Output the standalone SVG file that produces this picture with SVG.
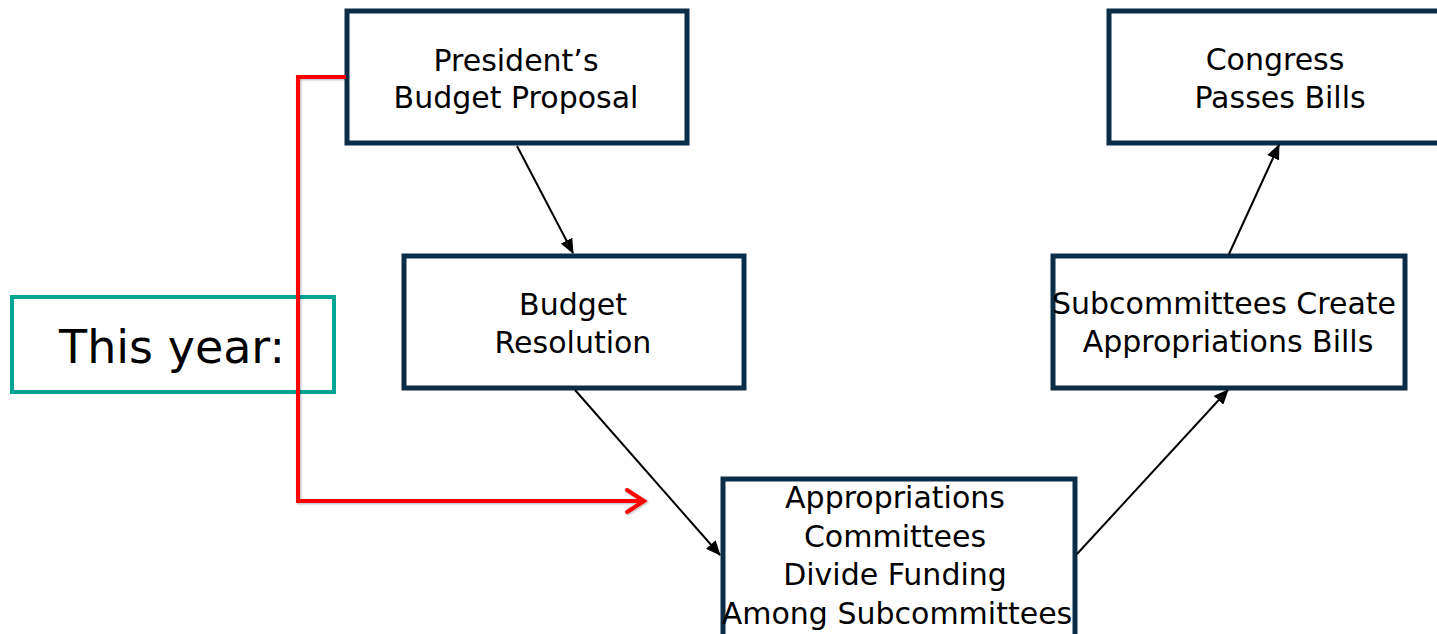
<svg xmlns="http://www.w3.org/2000/svg" width="1437" height="634" viewBox="0 0 1437 634">
<style>
.box{fill:#fff;stroke:#0c2d48;stroke-width:5;}
.lbl{font-family:"DejaVu Sans",sans-serif;font-size:30px;fill:#000;text-anchor:middle;}
.conn{stroke:#000;stroke-width:2;fill:none;marker-end:url(#ah);}
</style>
<defs>
<marker id="ah" markerWidth="15" markerHeight="13" refX="14" refY="6.5" orient="auto" markerUnits="userSpaceOnUse" viewBox="0 0 15 13">
<path d="M0,0 L15,6.5 L0,13 z" fill="#000"/>
</marker>
<filter id="sh" x="-10%" y="-10%" width="120%" height="120%">
<feDropShadow dx="1" dy="1" stdDeviation="1" flood-color="#000" flood-opacity="0.3"/>
</filter>
</defs>
<rect width="1437" height="634" fill="#fff"/>
<g id="this-year">
<rect x="12" y="297" width="322" height="95" fill="#fff" stroke="#00a693" stroke-width="4"/>
<text x="172" y="363" font-family="DejaVu Sans,sans-serif" font-size="46" text-anchor="middle">This year:</text>
</g>
<g id="n1">
<rect class="box" x="347" y="11" width="340" height="132"/>
<text class="lbl" x="516" y="71">President’s</text>
<text class="lbl" x="516" y="108">Budget Proposal</text>
</g>
<g id="n2">
<rect class="box" x="404" y="256" width="340" height="132"/>
<text class="lbl" x="573" y="315">Budget</text>
<text class="lbl" x="573" y="353">Resolution</text>
</g>
<g id="n3">
<rect class="box" x="723" y="479" width="352" height="160"/>
<text class="lbl" x="895" y="508">Appropriations</text>
<text class="lbl" x="895" y="547">Committees</text>
<text class="lbl" x="895" y="585">Divide Funding</text>
<text class="lbl" x="897" y="624">Among Subcommittees</text>
</g>
<g id="n4">
<rect class="box" x="1053" y="256" width="352" height="132"/>
<text class="lbl" x="1224" y="314">Subcommittees Create</text>
<text class="lbl" x="1228" y="352">Appropriations Bills</text>
</g>
<g id="n5">
<rect class="box" x="1109" y="11" width="340" height="132"/>
<text class="lbl" x="1275" y="70">Congress</text>
<text class="lbl" x="1280" y="108">Passes Bills</text>
</g>
<g id="connectors">
<line class="conn" x1="517" y1="146" x2="573" y2="253"/>
<line class="conn" x1="575" y1="390" x2="720" y2="555"/>
<line class="conn" x1="1077" y1="554" x2="1228" y2="390"/>
<line class="conn" x1="1229" y1="254" x2="1279" y2="145"/>
<g filter="url(#sh)" stroke="#f00" stroke-width="4" fill="none" stroke-linejoin="miter">
<path d="M346,77 H298 V501 H643"/>
<path d="M627,490 L644,501 L627,512" stroke-linecap="round"/>
</g>
</g>
</svg>
